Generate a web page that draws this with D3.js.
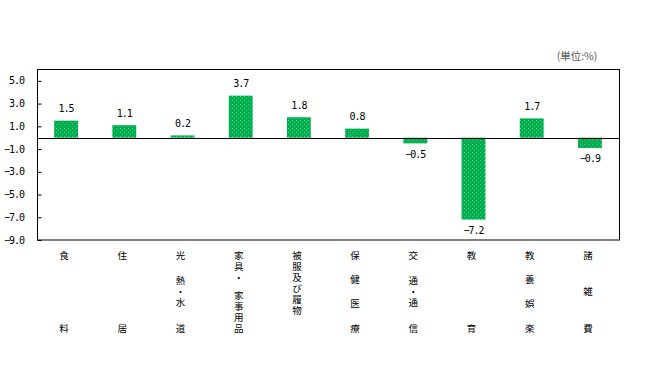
<!DOCTYPE html>
<html>
<head>
<meta charset="utf-8">
<script src="https://cdn.jsdelivr.net/npm/d3@7"></script>
<style>
html,body{margin:0;padding:0;background:#fff;}
svg{display:block;}
</style>
</head>
<body>
<svg id="chart" width="649" height="377"></svg>
<script>
// ---- data ----
const categories = ["食料","住居","光熱・水道","家具・家事用品","被服及び履物","保健医療","交通・通信","教育","教養娯楽","諸雑費"];
// rows of the vertical category labels ("|" separates distributed rows)
const labelRows = ["食|料","住|居","光|熱・水|道","家具・|家事用品","被服及び履物","保|健|医|療","交|通・通|信","教|育","教|養|娯|楽","諸|雑|費"];
const values = [1.5, 1.1, 0.2, 3.7, 1.8, 0.8, -0.5, -7.2, 1.7, -0.9];
const yTicks = [5, 3, 1, -1, -3, -5, -7, -9];
const unitLabel = "(単位:%)";

// ---- layout ----
const svg = d3.select("#chart");
const L = 37, R = 619, T = 69.5, B = 240;

const x = d3.scaleBand().domain(categories).range([L, R]).paddingInner(0).paddingOuter(0);
const y = d3.scaleLinear().domain([-9, 6]).range([B, T]);
const barW = x.bandwidth() * 0.41;

// pattern for bars
const defs = svg.append("defs");
const pat = defs.append("pattern").attr("id", "dots").attr("patternUnits", "userSpaceOnUse")
  .attr("width", 4).attr("height", 4);
pat.append("rect").attr("width", 4).attr("height", 4).attr("fill", "#00ad4f");
pat.append("rect").attr("x", 0).attr("y", 0).attr("width", 1).attr("height", 1).attr("fill", "#3fd27a");
pat.append("rect").attr("x", 2).attr("y", 2).attr("width", 1).attr("height", 1).attr("fill", "#2cc468");

// bars
svg.append("g").selectAll("rect").data(values).join("rect")
  .attr("x", (d, i) => x(categories[i]) + x.bandwidth() / 2 - barW / 2)
  .attr("y", d => y(Math.max(0, d)))
  .attr("width", barW)
  .attr("height", d => Math.abs(y(d) - y(0)))
  .attr("fill", "url(#dots)");

// frame
svg.append("rect").attr("x", L + 0.5).attr("y", T).attr("width", R - L).attr("height", B - T)
  .attr("fill", "none").attr("stroke", "#000").attr("stroke-width", 1);

// zero line
svg.append("line").attr("x1", L).attr("x2", R + 0.5)
  .attr("y1", Math.round(y(0)) + 0.5).attr("y2", Math.round(y(0)) + 0.5)
  .attr("stroke", "#000").attr("stroke-width", 1);

// y axis (ticks inward)
const yAxis = d3.axisRight(y).tickValues(yTicks).tickSize(4).tickFormat("");
const gy = svg.append("g").attr("transform", `translate(${L + 0.5},0)`).call(yAxis);
gy.select(".domain").remove();
gy.selectAll(".tick line").attr("stroke", "#000");

svg.append("g").selectAll("text").data(yTicks).join("text")
  .attr("x", 24).attr("y", d => y(d))
  .attr("text-anchor", "end").attr("dominant-baseline", "central")
  .attr("font-family", "DejaVu Sans Mono, Liberation Mono, monospace")
  .attr("font-size", 10).attr("letter-spacing", "-1px").attr("fill", "#000")
  .text(d => d3.format(".1f")(d));

// value labels
svg.append("g").selectAll("text").data(values).join("text")
  .attr("x", (d, i) => x(categories[i]) + x.bandwidth() / 2)
  .attr("y", d => d >= 0 ? y(d) - 12 : y(d) + 11)
  .attr("text-anchor", "middle").attr("dominant-baseline", "central")
  .attr("font-family", "DejaVu Sans Mono, Liberation Mono, monospace")
  .attr("font-size", 10).attr("letter-spacing", "-1px").attr("fill", "#000")
  .text(d => d3.format(".1f")(d));

// category labels: vertical text, one text element per row
const fs = 9.5, topC = 255, botC = 328, sp = 11;
const gl = svg.append("g").attr("font-family", "Noto Sans CJK JP, sans-serif")
  .attr("font-size", fs).attr("fill", "#000");
categories.forEach((c, i) => {
  const cx = x(c) + x.bandwidth() / 2 - 2;
  const rows = labelRows[i].split("|");
  const n = rows.length;
  rows.forEach((row, r) => {
    const len = Array.from(row).length;
    let start;
    if (n === 1 || r === 0) start = topC;
    else if (r === n - 1) start = botC - (len - 1) * sp;
    else {
      const center = topC + r * (botC - topC) / (n - 1);
      start = center - (len - 1) * sp / 2;
    }
    gl.append("text")
      .attr("x", cx).attr("y", start - fs / 2)
      .style("writing-mode", "vertical-rl")
      .style("text-orientation", "upright")
      .attr("letter-spacing", (sp - fs) + "px")
      .text(row);
  });
});

// unit label
svg.append("text").attr("x", 577).attr("y", 55)
  .attr("text-anchor", "middle").attr("dominant-baseline", "central")
  .attr("font-family", "Noto Sans CJK JP, sans-serif").attr("font-size", 10.5)
  .attr("fill", "#555").text(unitLabel);
</script>
</body>
</html>
